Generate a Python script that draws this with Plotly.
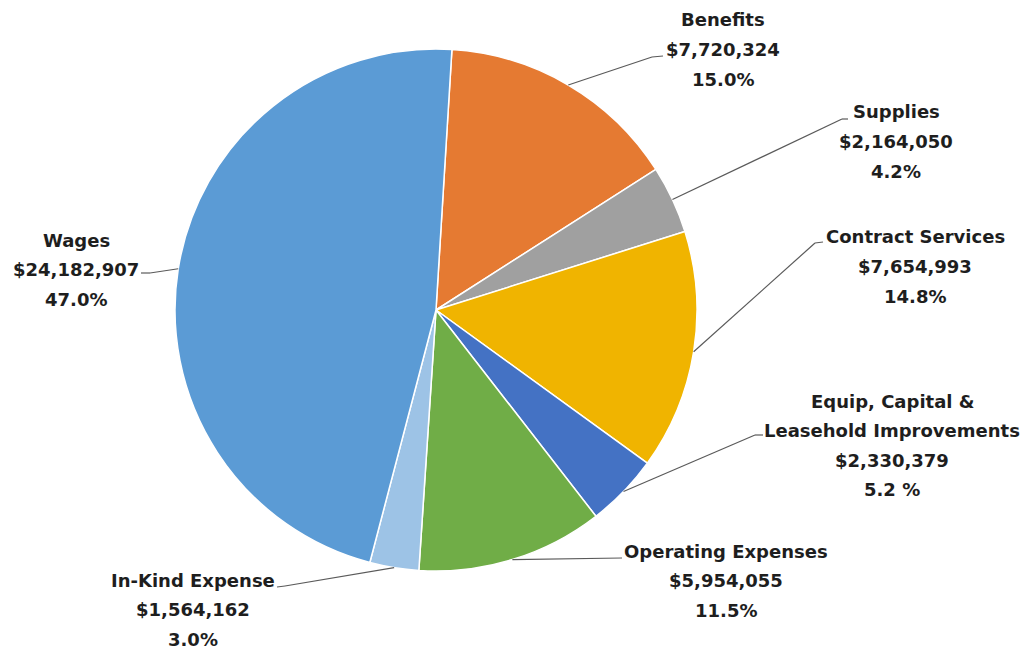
import math
import plotly.graph_objects as go

# Budget categories in clockwise order starting near 12 o'clock
categories = ["Benefits", "Supplies", "Contract Services",
              "Equip, Capital & Leasehold Improvements", "Operating Expenses",
              "In-Kind Expense", "Wages"]
amounts = [7720324, 2164050, 7654993, 2330379, 5954055, 1564162, 24182907]
pct_labels = ["15.0%", "4.2%", "14.8%", "5.2 %", "11.5%", "3.0%", "47.0%"]
name_lines = [["Benefits"], ["Supplies"], ["Contract Services"],
              ["Equip, Capital &", "Leasehold Improvements"],
              ["Operating Expenses"], ["In-Kind Expense"], ["Wages"]]
colors = ["#E57A32", "#A0A0A0", "#F0B400", "#4472C4", "#70AD47", "#9DC3E6", "#5B9BD5"]

W, H = 1032, 654
CX, CY, R = 436, 310, 261
ROTATION = 3.5

# label block centre x, first-line y, and leader elbow / end points (pixels)
label_pos = [(723, 20), (896, 112), (915, 237), (892, 401), (726, 551), (193, 580), (76, 240)]
leader_pts = [
    [(652, 57), (663, 56)],
    [(842, 119), (848, 119)],
    [(815, 243), (823, 242)],
    [(755, 435), (763, 435)],
    [(622, 558)],
    [(285, 586), (277, 587)],
    [(150, 273), (141, 273)],
]
LINE_GAP = 29.5


def px(x, y):
    return x / W, 1 - y / H


fig = go.Figure(go.Pie(
    labels=categories,
    values=amounts,
    sort=False,
    direction="clockwise",
    rotation=ROTATION,
    marker=dict(colors=colors, line=dict(color="white", width=1.5)),
    textinfo="none",
    hoverinfo="label+value+percent",
    showlegend=False,
    domain=dict(x=[(CX - R) / W, (CX + R) / W], y=[1 - (CY + R) / H, 1 - (CY - R) / H]),
))

total = sum(amounts)
shapes = []
annotations = []
cum = 0.0
for i, amt in enumerate(amounts):
    mid = ROTATION + 360 * (cum + amt / 2) / total
    cum += amt
    a = math.radians(mid)
    sx, sy = CX + R * math.sin(a), CY - R * math.cos(a)
    pts = [(sx, sy)] + leader_pts[i]
    for (x0, y0), (x1, y1) in zip(pts[:-1], pts[1:]):
        p0, p1 = px(x0, y0), px(x1, y1)
        shapes.append(dict(type="line", xref="paper", yref="paper",
                           x0=p0[0], y0=p0[1], x1=p1[0], y1=p1[1],
                           line=dict(color="#5a5a5a", width=1.2)))
    lines = name_lines[i] + ["${:,}".format(amt), pct_labels[i]]
    lx, ly = label_pos[i]
    for k, t in enumerate(lines):
        ax, ay = px(lx, ly + k * LINE_GAP)
        annotations.append(dict(text="<b>%s</b>" % t, x=ax, y=ay, xref="paper", yref="paper",
                                xanchor="center", yanchor="middle", showarrow=False,
                                font=dict(family="DejaVu Sans", size=18, color="#1e1e1e")))

fig.update_layout(
    width=W, height=H,
    margin=dict(l=0, r=0, t=0, b=0),
    paper_bgcolor="white",
    plot_bgcolor="white",
    shapes=shapes,
    annotations=annotations,
)

fig.write_html("out.html")
